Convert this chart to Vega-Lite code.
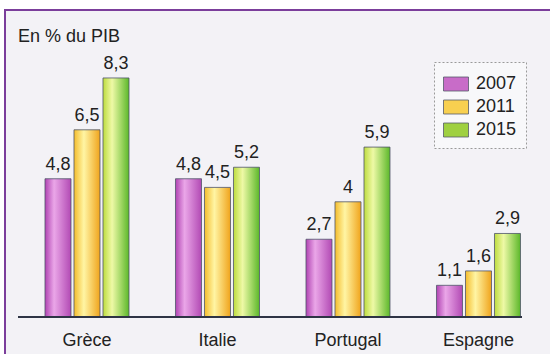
{
  "$schema": "https://vega.github.io/schema/vega-lite/v6.json",
  "width": 550,
  "height": 347,
  "autosize": "none",
  "padding": {"left": 5, "top": 10, "right": -5, "bottom": -3},
  "background": "#ffffff",
  "title": {
    "text": "En % du PIB",
    "anchor": "start",
    "frame": "group",
    "offset": -50,
    "dx": 13,
    "baseline": "alphabetic",
    "font": "Liberation Sans",
    "fontSize": 18,
    "fontWeight": "normal",
    "color": "#222222"
  },
  "data": {
    "values": [
      {"pays": "Grèce", "annee": "2007", "valeur": 4.8},
      {"pays": "Grèce", "annee": "2011", "valeur": 6.5},
      {"pays": "Grèce", "annee": "2015", "valeur": 8.3},
      {"pays": "Italie", "annee": "2007", "valeur": 4.8},
      {"pays": "Italie", "annee": "2011", "valeur": 4.5},
      {"pays": "Italie", "annee": "2015", "valeur": 5.2},
      {"pays": "Portugal", "annee": "2007", "valeur": 2.7},
      {"pays": "Portugal", "annee": "2011", "valeur": 4},
      {"pays": "Portugal", "annee": "2015", "valeur": 5.9},
      {"pays": "Espagne", "annee": "2007", "valeur": 1.1},
      {"pays": "Espagne", "annee": "2011", "valeur": 1.6},
      {"pays": "Espagne", "annee": "2015", "valeur": 2.9}
    ]
  },
  "layer": [
    {
      "mark": {"type": "bar", "stroke": "#4e5468", "strokeWidth": 0.8},
      "encoding": {
        "x": {
          "field": "pays",
          "type": "nominal",
          "sort": null,
          "scale": {
            "domain": ["Grèce", "Italie", "Portugal", "Espagne"],
            "paddingInner": 0,
            "paddingOuter": 0.1073,
            "align": 0.598
          },
          "axis": {
            "orient": "bottom",
            "offset": -40,
            "domain": false,
            "ticks": false,
            "tickSize": 0,
            "labelPadding": 28,
            "labelBaseline": "alphabetic",
            "labelAngle": 0,
            "labelFont": "Liberation Sans",
            "labelFontSize": 18,
            "labelColor": "#222222",
            "grid": false,
            "title": null
          }
        },
        "xOffset": {
          "field": "annee",
          "type": "nominal",
          "scale": {"paddingInner": 0.1034, "paddingOuter": 0.8017}
        },
        "y": {
          "field": "valeur",
          "type": "quantitative",
          "scale": {"domain": [-1.389, 10.66], "zero": false, "nice": false},
          "axis": null
        },
        "y2": {"datum": 0},
        "color": {
          "field": "annee",
          "type": "nominal",
          "scale": {
            "domain": ["2007", "2011", "2015"],
            "range": ["#c86cc8", "#f8d050", "#9fd040"]
          },
          "condition": [
            {"test": "datum.annee === '2007'",
             "value": {"gradient": "linear", "x1": 0, "y1": 0, "x2": 1, "y2": 0,
               "stops": [{"offset": 0, "color": "#b043b2"}, {"offset": 0.35, "color": "#eaa6e8"}, {"offset": 1, "color": "#b24ab4"}]}},
            {"test": "datum.annee === '2011'",
             "value": {"gradient": "linear", "x1": 0, "y1": 0, "x2": 1, "y2": 0,
               "stops": [{"offset": 0, "color": "#f4bc2c"}, {"offset": 0.38, "color": "#fff5a4"}, {"offset": 1, "color": "#f0a41c"}]}},
            {"test": "datum.annee === '2015'",
             "value": {"gradient": "linear", "x1": 0, "y1": 0, "x2": 1, "y2": 0,
               "stops": [{"offset": 0, "color": "#bddc3e"}, {"offset": 0.35, "color": "#eef9a6"}, {"offset": 1, "color": "#5cb82a"}]}}
          ],
          "legend": {"title": null}
        }
      }
    },
    {
      "mark": {
        "type": "text",
        "dy": -9,
        "baseline": "alphabetic",
        "font": "Liberation Sans",
        "fontSize": 18,
        "color": "#222222"
      },
      "encoding": {
        "x": {"field": "pays", "type": "nominal", "sort": null, "axis": null},
        "xOffset": {"field": "annee", "type": "nominal"},
        "y": {"field": "valeur", "type": "quantitative", "axis": null},
        "text": {"field": "valeur", "type": "quantitative", "format": "~g"}
      }
    },
    {
      "mark": {"type": "rule", "color": "#2f3446", "strokeWidth": 1.5},
      "encoding": {
        "x": {"datum": "Grèce", "type": "nominal", "bandPosition": -0.0287, "axis": null},
        "x2": {"datum": "Espagne", "bandPosition": 0.8333},
        "y": {"datum": 0, "type": "quantitative", "axis": null}
      }
    }
  ],
  "resolve": {"axis": {"x": "independent"}},
  "config": {
    "view": {"stroke": "#7b3e9b", "strokeWidth": 2, "fill": "#f3f2f6"},
    "locale": {
      "number": {"decimal": ",", "thousands": " ", "grouping": [3], "currency": ["", " €"]}
    },
    "legend": {
      "orient": "none",
      "legendX": 429,
      "legendY": 52,
      "padding": 9,
      "rowPadding": 1,
      "fillColor": "#f8f8fa",
      "strokeColor": "#9a9a9a",
      "strokeDash": [2, 2],
      "symbolType": "M-1,-0.56H1V0.56H-1Z",
      "symbolSize": 625,
      "symbolStrokeColor": "#555a6a",
      "symbolStrokeWidth": 0.8,
      "labelFont": "Liberation Sans",
      "labelFontSize": 18,
      "labelColor": "#222222",
      "labelOffset": 7
    }
  }
}
